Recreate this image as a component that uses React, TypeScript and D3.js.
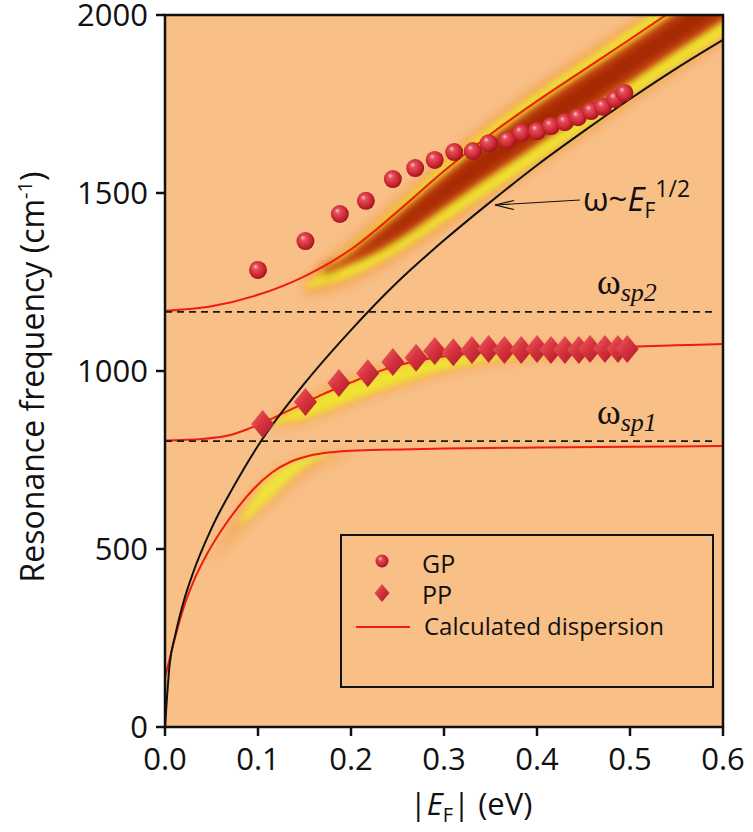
import React from "react";
import * as d3 from "d3";

const W = 753;
const H = 832;
const plot = { left: 165, right: 723, top: 15, bottom: 727 };

const xTicks = [0, 0.1, 0.2, 0.3, 0.4, 0.5, 0.6];
const yTicks = [0, 500, 1000, 1500, 2000];

// measured GP (circles) and PP (diamonds)
const gpE = [0.1, 0.151, 0.188, 0.216, 0.245, 0.269, 0.29, 0.311, 0.331, 0.348, 0.368, 0.383, 0.4, 0.415, 0.43, 0.444, 0.458, 0.471, 0.484, 0.494];
const gpW = [1284, 1365, 1441, 1478, 1539, 1570, 1593, 1615, 1618, 1640, 1649, 1669, 1674, 1688, 1699, 1713, 1730, 1742, 1764, 1781];
const ppE = [0.105, 0.151, 0.187, 0.218, 0.245, 0.27, 0.29, 0.31, 0.33, 0.348, 0.365, 0.383, 0.4, 0.415, 0.43, 0.445, 0.457, 0.473, 0.487, 0.497];
const ppW = [851, 913, 966, 994, 1025, 1037, 1056, 1053, 1059, 1062, 1059, 1059, 1062, 1059, 1059, 1059, 1062, 1062, 1062, 1062];

// calculated dispersion (red lines)
const calcUpE = [0, 0.05, 0.1, 0.15, 0.2, 0.25, 0.3, 0.35, 0.4, 0.45, 0.5, 0.55, 0.6];
const calcUpW = [1169, 1182, 1214, 1266, 1342, 1448, 1562, 1665, 1758, 1845, 1932, 2020, 2110];
const calcMidE = [0, 0.04, 0.07, 0.09, 0.11, 0.13, 0.15, 0.17, 0.2, 0.24, 0.28, 0.32, 0.36, 0.4, 0.45, 0.5, 0.55, 0.6];
const calcMidW = [805, 809, 820, 838, 860, 885, 910, 935, 968, 1008, 1033, 1047, 1055, 1060, 1064, 1068, 1072, 1076];
const calcLowE = [0, 0.011, 0.02, 0.03, 0.045, 0.06, 0.077, 0.095, 0.115, 0.135, 0.155, 0.18, 0.2, 0.3, 0.4, 0.5, 0.6];
const calcLowW = [138, 253, 335, 405, 485, 550, 612, 668, 715, 745, 762, 772, 776, 782, 785, 787, 789];

// omega ~ EF^(1/2) (black line)
const sqrtE = [0, 0.005, 0.011, 0.02, 0.03, 0.05, 0.077, 0.1, 0.15, 0.2, 0.25, 0.3, 0.35, 0.4, 0.45, 0.5, 0.55, 0.6];
const sqrtW = [0, 176, 258, 352, 432, 558, 690, 790, 965, 1115, 1250, 1367, 1475, 1578, 1673, 1764, 1850, 1930];

const wsp1 = 803;
const wsp2 = 1166;

// loss map bands (lo / hi edges)
const upBandE = [0.15, 0.17, 0.2, 0.25, 0.3, 0.36, 0.42, 0.48, 0.54, 0.6, 0.63];
const upBandHi = [1238, 1282, 1350, 1462, 1585, 1708, 1820, 1922, 2032, 2138, 2190];
const upBandLo = [1232, 1240, 1262, 1330, 1420, 1520, 1625, 1732, 1842, 1940, 1995];
const coreE = [0.17, 0.2, 0.25, 0.3, 0.36, 0.42, 0.48, 0.54, 0.6, 0.63];
const coreHi = [1280, 1330, 1435, 1548, 1672, 1782, 1882, 1990, 2095, 2145];
const coreLo = [1277, 1298, 1365, 1462, 1568, 1672, 1778, 1885, 1985, 2035];
const midBandE = [0.115, 0.13, 0.15, 0.17, 0.2, 0.25, 0.3, 0.35, 0.4, 0.45, 0.5];
const midBandHi = [858, 880, 905, 935, 970, 1015, 1040, 1052, 1058, 1062, 1066];
const midBandLo = [852, 855, 866, 885, 915, 965, 1005, 1032, 1045, 1055, 1062];
const lowBandE = [0.08, 0.09, 0.1, 0.115, 0.13, 0.145, 0.16, 0.175];
const lowBandHi = [575, 625, 665, 705, 735, 752, 762, 768];
const lowBandLo = [565, 585, 610, 645, 685, 720, 748, 763];
const lowGlowE = [0.05, 0.07, 0.09, 0.11, 0.13, 0.15, 0.17, 0.2];
const lowGlowHi = [470, 570, 650, 705, 740, 758, 768, 775];
const lowGlowLo = [460, 520, 570, 615, 660, 705, 740, 765];

const font = "'Open Sans', 'Noto Sans', sans-serif";
const serif = "'Liberation Serif', 'Times New Roman', serif";

export default function App() {
  const x = d3.scaleLinear().domain([0, 0.6]).range([plot.left, plot.right]);
  const y = d3.scaleLinear().domain([0, 2000]).range([plot.bottom, plot.top]);

  const path = (es: number[], ws: number[]) =>
    d3
      .line<number>()
      .curve(d3.curveMonotoneX)
      .x((_, i) => x(es[i]))
      .y((_, i) => y(ws[i]))(es) || "";

  const area = (es: number[], lo: number[], hi: number[]) =>
    d3
      .area<number>()
      .curve(d3.curveBasis)
      .x((_, i) => x(es[i]))
      .y0((_, i) => y(lo[i]))
      .y1((_, i) => y(hi[i]))(es) || "";

  const widen = (lo: number[], hi: number[], k: number) => ({
    lo: lo.map((v) => v - k),
    hi: hi.map((v) => v + k),
  });
  const upGlow = widen(upBandLo, upBandHi, 18);
  const midGlow = widen(midBandLo, midBandHi, 12);

  return (
    <div style={{ position: "absolute", left: 0, top: 0 }}>
      <svg width={W} height={H} style={{ display: "block", background: "#fff" }}>
        <defs>
          <clipPath id="plotClip">
            <rect x={plot.left} y={plot.top} width={plot.right - plot.left} height={plot.bottom - plot.top} />
          </clipPath>
          <filter id="blur6" x="-20%" y="-20%" width="140%" height="140%">
            <feGaussianBlur stdDeviation="6" />
          </filter>
          <filter id="blur3" x="-20%" y="-20%" width="140%" height="140%">
            <feGaussianBlur stdDeviation="3" />
          </filter>
          <radialGradient id="ball" cx="45%" cy="45%" r="60%" fx="35%" fy="30%">
            <stop offset="0%" stopColor="#fbc4c4" />
            <stop offset="25%" stopColor="#e4505a" />
            <stop offset="70%" stopColor="#cc2431" />
            <stop offset="100%" stopColor="#8c1019" />
          </radialGradient>
          <linearGradient id="dia" x1="0" y1="0" x2="1" y2="1">
            <stop offset="0%" stopColor="#ee6a6e" />
            <stop offset="45%" stopColor="#d8343e" />
            <stop offset="100%" stopColor="#a8182a" />
          </linearGradient>
        </defs>

        <rect x={plot.left} y={plot.top} width={plot.right - plot.left} height={plot.bottom - plot.top} fill="#f8bf87" />

        <g clipPath="url(#plotClip)">
          {/* loss map */}
          <path d={area(upBandE, upGlow.lo, upGlow.hi)} fill="#f3a052" filter="url(#blur6)" />
          <path d={area(midBandE, midGlow.lo, midGlow.hi)} fill="#f4a85a" filter="url(#blur6)" />
          <path d={area(lowGlowE, lowGlowLo, lowGlowHi)} fill="#f4aa5e" filter="url(#blur6)" />
          <path d={area(upBandE, upBandLo, upBandHi)} fill="#f0e233" filter="url(#blur3)" />
          <path d={area(midBandE, midBandLo, midBandHi)} fill="#f0e233" filter="url(#blur3)" />
          <path d={area(lowBandE, lowBandLo, lowBandHi)} fill="#eee43a" filter="url(#blur3)" />
          <path d={area(coreE, coreLo, coreHi)} fill="#cc4a14" filter="url(#blur3)" />
          <path d={area(coreE, coreLo.map((v, i) => v + 12 + i), coreHi.map((v, i) => v - 12 - i))} fill="#a32500" filter="url(#blur6)" />

          {/* calculated dispersion */}
          <path d={path(calcUpE, calcUpW)} fill="none" stroke="#f01c0c" strokeWidth={2} />
          <path d={path(calcMidE, calcMidW)} fill="none" stroke="#f01c0c" strokeWidth={2} />
          <path d={path(calcLowE, calcLowW)} fill="none" stroke="#f01c0c" strokeWidth={2} />

          {/* surface phonon lines */}
          {[wsp1, wsp2].map((w) => (
            <line key={w} x1={x(0)} x2={x(0.59)} y1={y(w)} y2={y(w)} stroke="#1a1a1a" strokeWidth={1.6} strokeDasharray="7,5" />
          ))}

          {/* sqrt law */}
          <path d={path(sqrtE, sqrtW)} fill="none" stroke="#111" strokeWidth={2} />

          {ppE.map((e, i) => (
            <path
              key={"pp" + i}
              transform={`translate(${x(e)},${y(ppW[i])})`}
              d="M0,-14L11.5,0L0,14L-11.5,0Z"
              fill="url(#dia)"
            />
          ))}
          {gpE.map((e, i) => (
            <circle key={"gp" + i} cx={x(e)} cy={y(gpW[i])} r={9} fill="url(#ball)" />
          ))}
        </g>

        {/* annotations */}
        <line x1={580} y1={200} x2={495} y2={205} stroke="#111" strokeWidth={1.2} />
        <path d="M514,200.5L495,205L514,209.5" fill="none" stroke="#111" strokeWidth={1.2} />
        <text x={583} y={211} fontFamily={font} fontSize={33} fill="#111">
          ω~<tspan fontStyle="italic">E</tspan>
          <tspan fontSize={21} dy={7}>F</tspan>
          <tspan fontSize={23} dy={-21}>1/2</tspan>
        </text>
        <text x={597} y={294} fontFamily={serif} fontSize={36} fill="#111">
          ω<tspan fontSize={26} fontStyle="italic" dy={7}>sp2</tspan>
        </text>
        <text x={597} y={424} fontFamily={serif} fontSize={36} fill="#111">
          ω<tspan fontSize={26} fontStyle="italic" dy={7}>sp1</tspan>
        </text>

        {/* legend */}
        <rect x={341} y={535} width={372} height={152} fill="none" stroke="#111" strokeWidth={2} />
        <circle cx={382} cy={561} r={6.5} fill="url(#ball)" />
        <path transform="translate(382,593)" d="M0,-9L7.5,0L0,9L-7.5,0Z" fill="url(#dia)" />
        <line x1={356} x2={410} y1={627} y2={627} stroke="#f01c0c" strokeWidth={2} />
        <text x={422} y={573} fontFamily={font} fontSize={25} fill="#111">GP</text>
        <text x={422} y={604} fontFamily={font} fontSize={25} fill="#111">PP</text>
        <text x={424} y={635} fontFamily={font} fontSize={24} fill="#111">Calculated dispersion</text>

        {/* frame and axes */}
        <rect x={plot.left} y={plot.top} width={plot.right - plot.left} height={plot.bottom - plot.top} fill="none" stroke="#111" strokeWidth={2.5} />
        {xTicks.map((t) => (
          <g key={"x" + t}>
            <line x1={x(t)} x2={x(t)} y1={plot.bottom} y2={plot.bottom + 9} stroke="#111" strokeWidth={2.5} />
            <text x={x(t)} y={770} textAnchor="middle" fontFamily={font} fontSize={31} fill="#111">
              {t.toFixed(1)}
            </text>
          </g>
        ))}
        {yTicks.map((t) => (
          <g key={"y" + t}>
            <line x1={plot.left - 9} x2={plot.left} y1={y(t)} y2={y(t)} stroke="#111" strokeWidth={2.5} />
            <text x={148} y={y(t) + 11} textAnchor="end" fontFamily={font} fontSize={31} fill="#111">
              {t}
            </text>
          </g>
        ))}
        <text x={471} y={815} textAnchor="middle" fontFamily={font} fontSize={31} fill="#111">
          |<tspan fontStyle="italic">E</tspan>
          <tspan fontSize={20} dy={7}>F</tspan>
          <tspan dy={-7}>| (eV)</tspan>
        </text>
        <text transform="translate(44,377) rotate(-90)" textAnchor="middle" fontFamily={font} fontSize={32} fill="#111">
          Resonance frequency (cm<tspan fontSize={20} dy={-12}>-1</tspan>
          <tspan dy={12}>)</tspan>
        </text>
      </svg>
    </div>
  );
}
